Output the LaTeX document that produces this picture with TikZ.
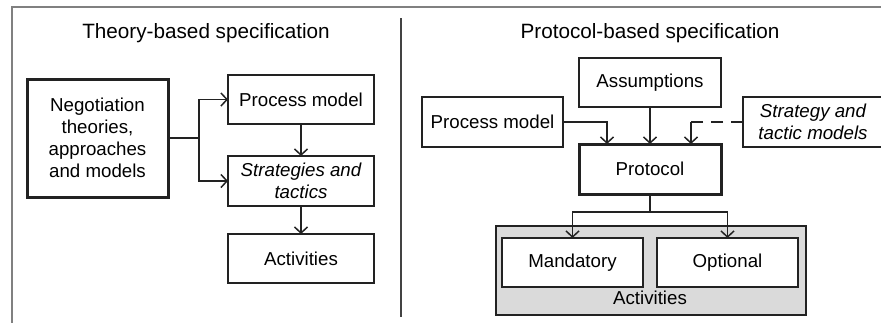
\documentclass[tikz,border=0pt]{standalone}
\usepackage{fontspec}
\setmainfont{Liberation Sans}
\usetikzlibrary{arrows.meta}
\definecolor{ln}{HTML}{222222}
\definecolor{frame}{HTML}{808080}
\definecolor{grayfill}{HTML}{DADADA}
\begin{document}
\begin{tikzpicture}[x=1pt,y=-1pt,
  box/.style={draw=ln,line width=1.5pt,inner sep=0pt,outer sep=0pt,align=center,
    font=\fontsize{18.7}{22}\selectfont,fill=white},
  bbox/.style={box,line width=3pt},
  title/.style={font=\fontsize{20.7}{24}\selectfont},
  conn/.style={draw=ln,line width=1.5pt,-{Straight Barb[length=6pt,width=13pt,line width=1.5pt]}},
  plain/.style={draw=ln,line width=1.5pt}]
\useasboundingbox (0,0) rectangle (881,322);
\clip (0,0) rectangle (881,322);
\fill[white] (0,0) rectangle (881,322);
% frame
\draw[frame,line width=2pt] (12,330) -- (12,7) -- (890,7);
% divider
\draw[ln!85,line width=2.5pt] (401,18) -- (401,317);
% titles
\node[title] (t1) at (206,33) {Theory-based specification};
\node[title] (t2) at (650,33) {Protocol-based specification};
% left
\node[bbox,minimum width=141pt,minimum height=118pt] (neg) at (97.5,138) {Negotiation\\theories,\\approaches\\and models};
\node[box,minimum width=146pt,minimum height=49pt] (pm) at (301,99.5) {Process model};
\node[box,minimum width=146pt,minimum height=50pt] (st) at (301,181) {\itshape Strategies and\\\itshape tactics};
\node[box,minimum width=146pt,minimum height=49pt] (act) at (301,258.5) {Activities};
\coordinate (j1) at (199,138);
\draw[plain] (neg.east) -- (j1);
\draw[conn] (j1) |- (pm.west);
\draw[conn] (j1) |- (st.west);
\draw[conn] (pm) -- (st);
\draw[conn] (st) -- (act);
% right
\node[box,minimum width=142pt,minimum height=49pt] (as) at (650,82.5) {Assumptions};
\node[box,minimum width=141pt,minimum height=50pt] (pmr) at (492.5,122) {Process model};
\node[box,minimum width=140pt,minimum height=50pt] (stm) at (813,122) {\itshape Strategy and\\\itshape tactic models};
\node[bbox,minimum width=142pt,minimum height=50pt] (pr) at (650,169) {Protocol};
\node[draw=ln,line width=1.5pt,fill=grayfill,minimum width=310pt,minimum height=89pt,inner sep=0pt] (actg) at (651,270.5) {};
\node[font=\fontsize{18.7}{22}\selectfont] (actl) at (650,298) {Activities};
\node[box,minimum width=141pt,minimum height=49pt] (man) at (572.5,262.5) {Mandatory};
\node[box,minimum width=141pt,minimum height=49pt] (opt) at (727.5,262.5) {Optional};
\draw[conn] (pmr.east) -| (pr.north -| 607,0);
\draw[conn] (as) -- (pr);
\coordinate (dj) at (691,122);
\draw[plain,dash pattern=on 12pt off 8pt] (stm.west) -- (dj);
\draw[conn] (dj) -- (dj |- pr.north);
\coordinate (bj) at (650,212);
\draw[plain] (pr.south) -- (bj);
\draw[conn] (bj) -| (man.north);
\draw[conn] (bj) -| (opt.north);
\end{tikzpicture}
\end{document}
